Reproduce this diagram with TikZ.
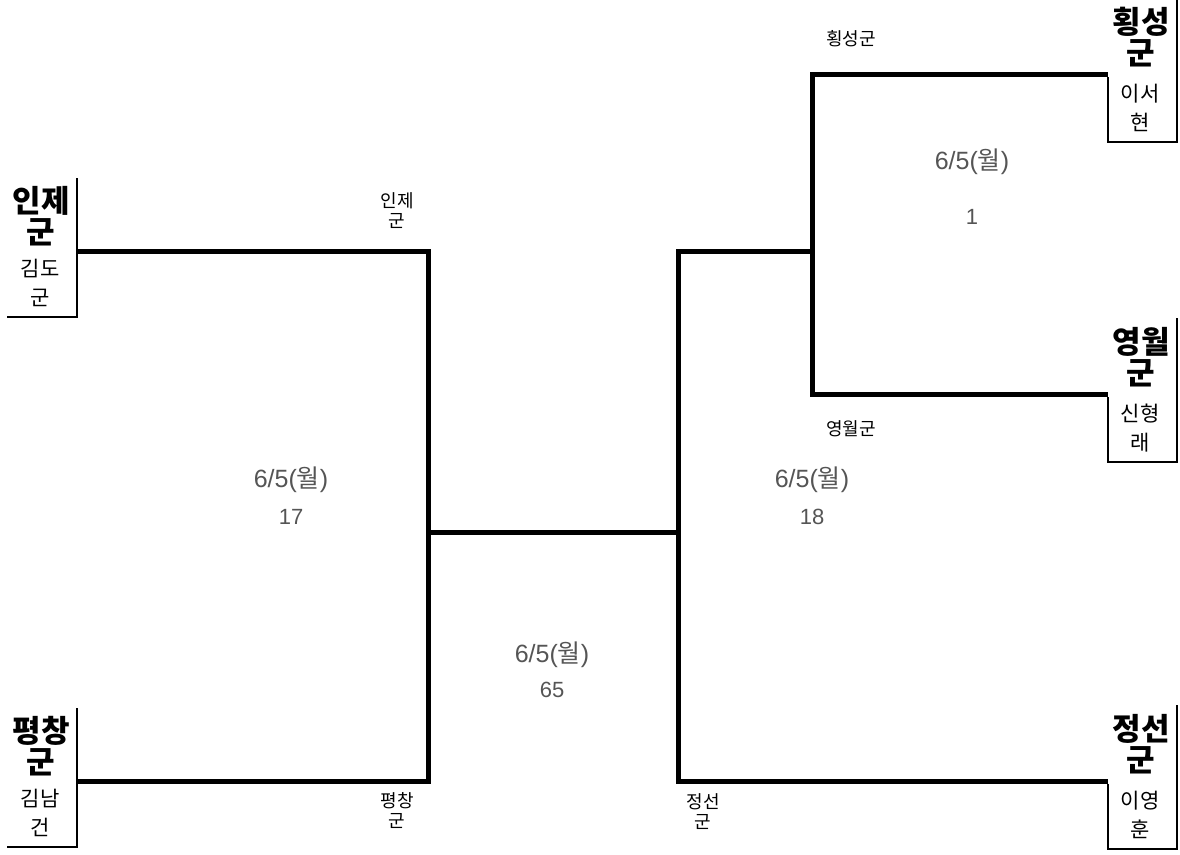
\documentclass[tikz,border=0pt]{standalone}
\usepackage{fontspec}
\setmainfont{Liberation Sans}
\newfontfamily\kr{Noto Sans CJK KR}
\definecolor{matchgray}{HTML}{555555}
\begin{document}
\begin{tikzpicture}
[x=1pt,y=-1pt,
  teamname/.style={font=\kr\bfseries\fontsize{31}{31}\selectfont,align=center,inner sep=0pt},%
  playername/.style={font=\kr\fontsize{21}{29}\selectfont,align=center,inner sep=0pt},%
  sidelabel/.style={font=\kr\fontsize{18}{20}\selectfont,align=center,inner sep=0pt},%
  matchdate/.style={font=\fontsize{25}{26}\selectfont,text=matchgray,inner sep=0pt},%
  matchno/.style={font=\fontsize{22}{24}\selectfont,text=matchgray,inner sep=0pt},%
  boxline/.style={-,line width=2pt},%
  bracketline/.style={-,line width=5pt,line join=miter}]
\useasboundingbox (0,0) rectangle (1180,854);
%% left team boxes
\foreach \nodename/\team/\player/\ly in {inje/{인제\\군}/{김도\\군}/251,
  pyeongchang/{평창\\군}/{김남\\건}/781} {
  \node (\nodename) at (41,\ly-35) [teamname] {\team};
  \node (\nodename-p) at (40,\ly+32) [playername] {\player};
  \coordinate (\nodename-a) at (77,\ly);
  \draw[boxline] (77,\ly-73) -- (77,\ly+66) -- (7,\ly+66);
}
%% right team boxes
\foreach \nodename/\team/\player/\ly in {hoengseong/{횡성\\군}/{이서\\현}/74,
  yeongwol/{영월\\군}/{신형\\래}/394, jeongseon/{정선\\군}/{이영\\훈}/781} {
  \node (\nodename) at (1141,\ly-37) [teamname] {\team};
  \node (\nodename-p) at (1140,\ly+34) [playername] {\player};
  \coordinate (\nodename-a) at (1108,\ly);
  \draw[boxline] (1177,\ly-76) -- (1177,\ly+68) -- (1108,\ly+68) -- (1108,\ly+3);
}
%% bracket lines
\coordinate (left-sf) at (428,532);
\coordinate (right-sf) at (678,532);
\coordinate (right-qf) at (812,251);
\draw[bracketline] (inje-a) -| (left-sf) |- (pyeongchang-a);
\draw[bracketline] (left-sf) -- (right-sf);
\draw[bracketline] (jeongseon-a) -| (right-sf) |- (right-qf);
\draw[bracketline] (hoengseong-a) -| (right-qf) |- (yeongwol-a);
%% team labels on the lines
\node (inje-l) at (397,211) [sidelabel] {인제\\군};
\node (pyeongchang-l) at (397,811) [sidelabel] {평창\\군};
\node (jeongseon-l) at (703,812) [sidelabel] {정선\\군};
\node (hoengseong-l) at (851,39) [sidelabel] {횡성군};
\node (yeongwol-l) at (851,429) [sidelabel] {영월군};
%% match dates and numbers
\foreach \nodename/\num/\x/\y/\gap in {m17/17/291/480/37, m65/65/552/655/35,
  m18/18/812/480/37, m1/1/972/162/55} {
  \node (\nodename) at (\x,\y) [matchdate] {6/5({\kr 월})};
  \node (\nodename-n) at (\x,\y+\gap) [matchno] {\num};
}
\end{tikzpicture}
\end{document}
